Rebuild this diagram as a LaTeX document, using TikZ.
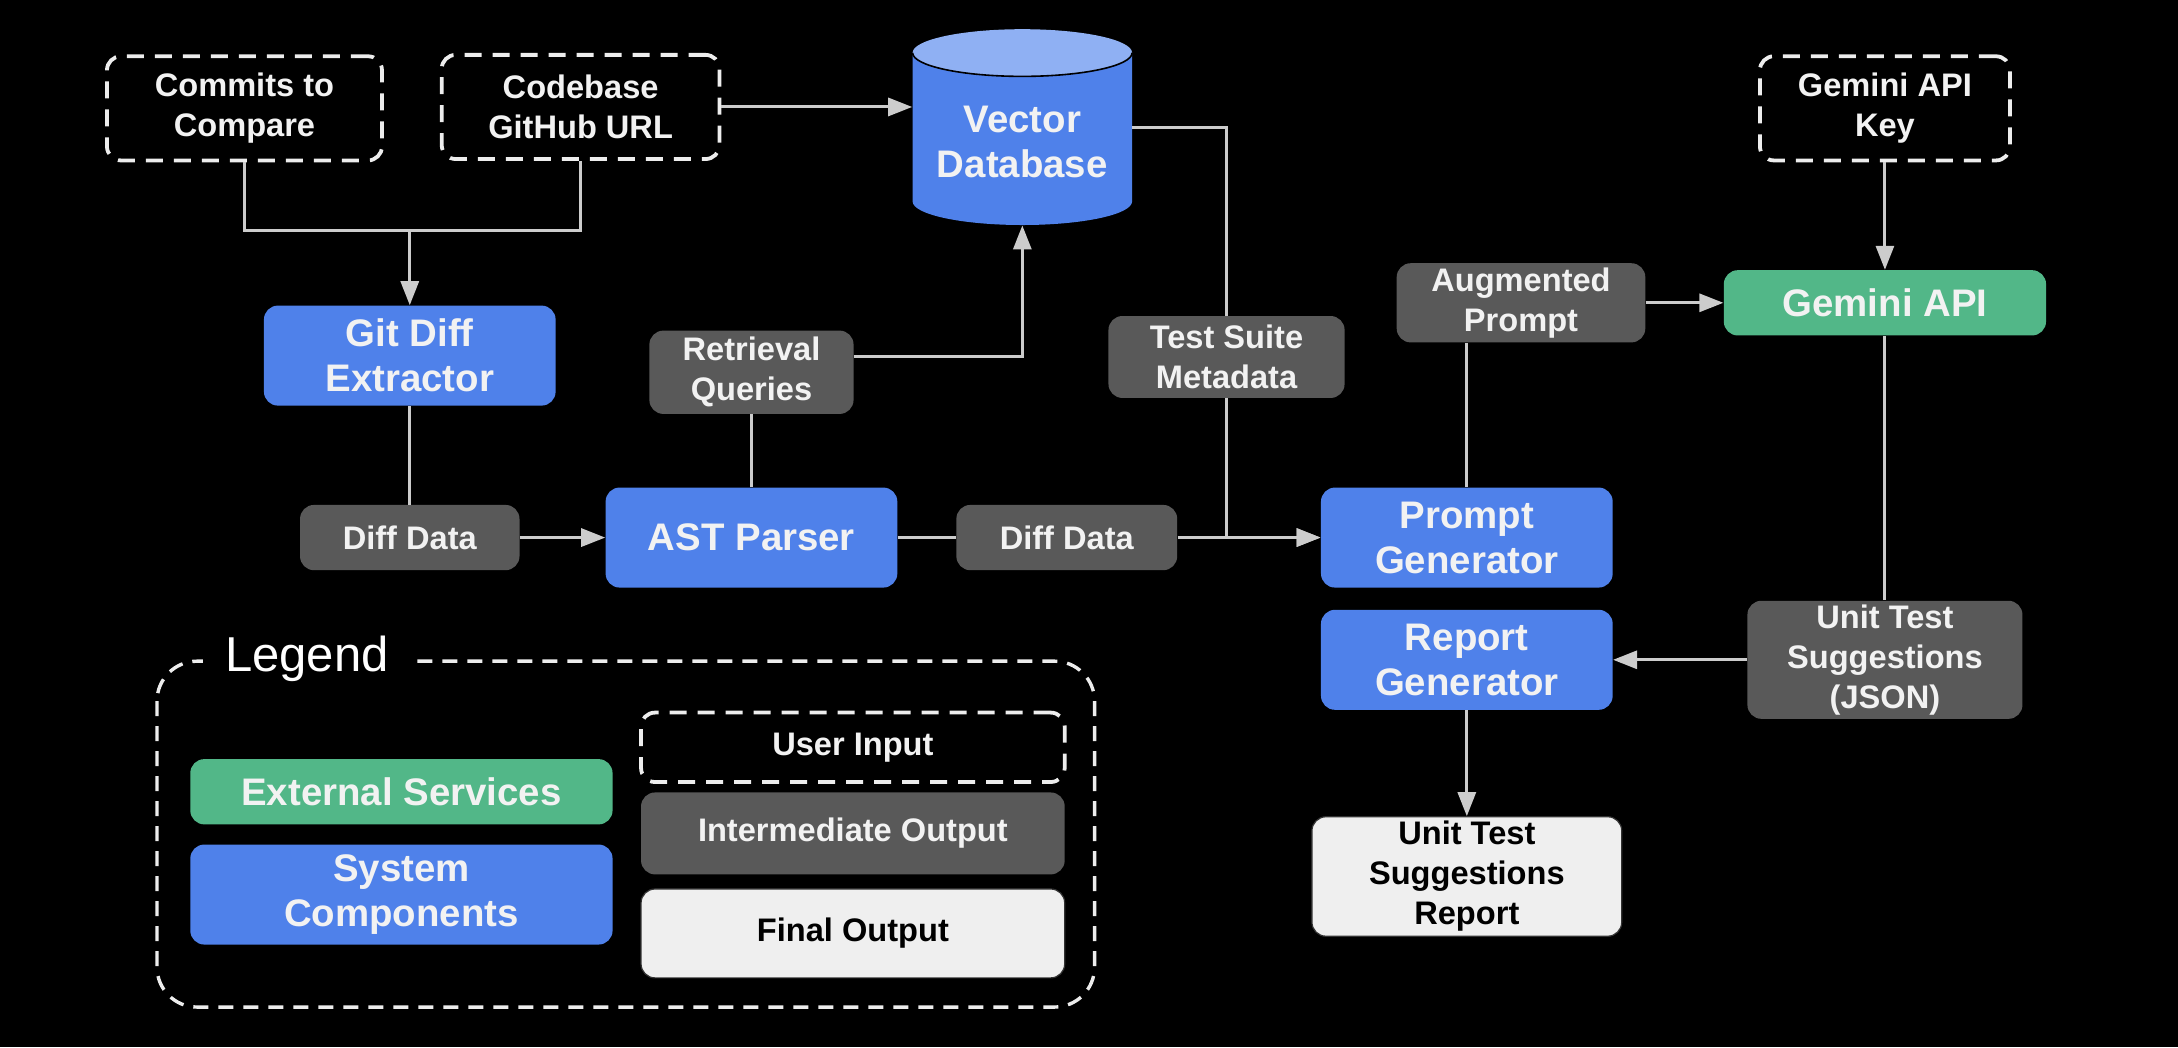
\documentclass[tikz,border=0pt]{standalone}
\usepackage{fontspec}
\setmainfont{Liberation Sans}
\usetikzlibrary{arrows.meta,calc}
\definecolor{sysblue}{HTML}{4F81EA}
\definecolor{extgreen}{HTML}{52B788}
\definecolor{midgray}{HTML}{595959}
\definecolor{finalw}{HTML}{EFEFEF}
\definecolor{cyltop}{HTML}{8FB0F3}
\definecolor{linec}{HTML}{CCCCCC}
\definecolor{txtw}{HTML}{F2F2F2}
\begin{document}
\begin{tikzpicture}[x=0.6945pt, y=-0.6945pt,
 sz/.style 2 args={minimum width=#1*0.6945pt, minimum height=#2*0.6945pt},
 bigf/.style={font=\bfseries\fontsize{19.2}{22.5}\selectfont},
 smallf/.style={font=\bfseries\fontsize{16.3}{20}\selectfont},
 boxbase/.style={rounded corners=7pt, align=center, inner sep=0pt, text=txtw},
 sysbox/.style={boxbase, fill=sysblue, bigf},
 extbox/.style={boxbase, fill=extgreen, bigf},
 midbox/.style={boxbase, fill=midgray, smallf},
 inbox/.style={boxbase, fill=black, draw=white!93!black, line width=1.9pt, dash pattern=on 8.5pt off 5.5pt, smallf},
 finbox/.style={boxbase, fill=finalw, text=black, draw=black!80, line width=0.6pt, smallf},
 conn/.style={draw=linec, line width=1.5pt},
 arr/.style={conn, -{Triangle[length=12pt, width=9pt]}},
]
\fill[black] (0,0) rectangle (1568,754);
\useasboundingbox (0,0) rectangle (1568,754);

% cylinder
\fill[sysblue] (657,38) -- (657,145) arc[start angle=180, end angle=360, x radius=54.87pt, y radius=11.8pt] -- (815,38) -- cycle;
\fill[cyltop] (736,38) ellipse [x radius=54.87pt, y radius=11.8pt];
\draw[black, line width=0.8pt] (657,38) arc[start angle=180, end angle=360, x radius=54.87pt, y radius=11.8pt];
\node[minimum width=158*0.6945pt, minimum height=142*0.6945pt, inner sep=0pt] (vdb) at (736,91) {};
\node[bigf, text=txtw, align=center] (vdbt) at (736,102) {Vector\\Database};

% nodes
\node[inbox, sz={198}{75}] (cmt) at (176,78) {Commits to\\Compare};
\node[inbox, sz={200}{75}] (cb) at (418,77) {Codebase\\GitHub URL};
\node[inbox, sz={180}{75}] (gk) at (1357,78) {Gemini API\\Key};
\node[sysbox, sz={210}{72}] (gde) at (295,256) {Git Diff\\Extractor};
\node[midbox, sz={147}{60}] (rq) at (541,268) {Retrieval\\Queries};
\node[midbox, sz={170}{59}] (ts) at (883,257) {Test Suite\\Metadata};
\node[midbox, sz={179}{57}] (ap) at (1095,218) {Augmented\\Prompt};
\node[extbox, sz={232}{47}] (gem) at (1357,218) {Gemini API};
\node[midbox, sz={158}{47}] (dd1) at (295,387) {Diff Data};
\node[sysbox, sz={210}{72}] (ast) at (541,387) {AST Parser};
\node[midbox, sz={159}{47}] (dd2) at (768,387) {Diff Data};
\node[sysbox, sz={210}{72}] (pg) at (1056,387) {Prompt\\Generator};
\node[sysbox, sz={210}{72}] (rg) at (1056,475) {Report\\Generator};
\node[midbox, sz={198}{85}] (uts) at (1357,475) {Unit Test\\Suggestions\\(JSON)};
\node[finbox, sz={223}{86}] (rep) at (1056,631) {Unit Test\\Suggestions\\Report};

% legend
\draw[white!93!black, line width=1.7pt, dash pattern=on 7.5pt off 5pt, rounded corners=20pt] (113,476) rectangle (788,725);
\node[fill=black, text=white, font=\fontsize{24.5}{28}\selectfont, inner xsep=11pt, inner ysep=2pt] (lgt) at (221,474) {Legend};
\node[extbox, sz={304}{47}] (lext) at (289,570) {External Services};
\node[sysbox, sz={304}{72}] (lsys) at (289,644) {System\\Components};
\node[inbox, sz={305}{50}] (lin) at (614,538) {User Input};
\node[midbox, sz={305}{59}] (lmid) at (614,600) {Intermediate Output};
\node[finbox, sz={305}{64}] (lfin) at (614,672) {Final Output};

% connectors
\coordinate (j1) at (295,166);
\draw[conn] (cmt.south) |- (j1) -| (cb.south);
\draw[arr] (j1) -- (gde.north);
\draw[arr] (cb.east) -- (cb.east -| vdb.west);
\draw[conn] (gde.south) -- (dd1.north);
\draw[arr] (dd1.east) -- (ast.west);
\draw[conn] (ast.north) -- (rq.south);
\coordinate (rqy) at (0,257);
\draw[arr] (rq.east |- rqy) -| (vdb.south);
\coordinate (vy) at (0,92);
\draw[conn] (vdb.east |- vy) -| (ts.north);
\draw[arr] (ts.south) |- (pg.west);
\draw[conn] (ast.east) -- (dd2.west);
\draw[arr] (dd2.east) -- (pg.west);
\draw[conn] (pg.north) -- (pg.north |- ap.south);
\draw[arr] (ap.east) -- (gem.west);
\draw[arr] (gk.south) -- (gem.north);
\draw[conn] (gem.south) -- (uts.north);
\draw[arr] (uts.west) -- (rg.east);
\draw[arr] (rg.south) -- (rep.north);
\end{tikzpicture}
\end{document}
